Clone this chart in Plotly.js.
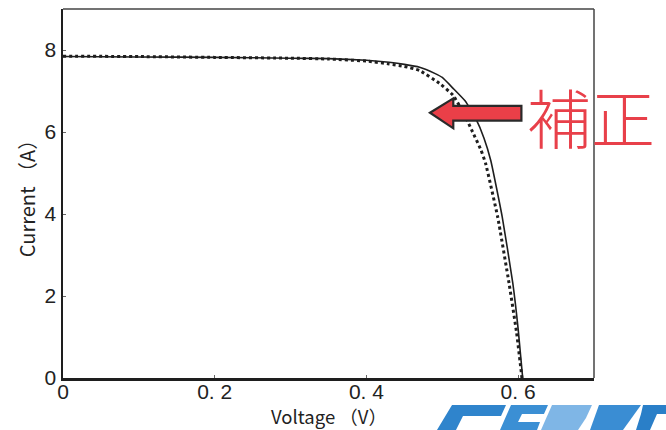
<!DOCTYPE html>
<html>
<head>
<meta charset="utf-8">
<script src="https://cdn.plot.ly/plotly-3.0.1.min.js"></script>
<style>html,body{margin:0;padding:0;background:#fff;}#chart{width:666px;height:430px;}</style>
</head>
<body>
<div id="chart"></div>
<script>
// Measured curve (solid)
const voltageSolid = [0, 0.1, 0.2, 0.3, 0.35, 0.4, 0.43, 0.45, 0.47, 0.49, 0.5, 0.514, 0.53, 0.544, 0.555, 0.564, 0.579, 0.593, 0.6, 0.606];
const currentSolid = [7.84, 7.83, 7.82, 7.80, 7.79, 7.75, 7.70, 7.65, 7.58, 7.43, 7.33, 7.07, 6.76, 6.33, 5.85, 5.3, 3.93, 2.31, 1.2, 0];
// Corrected curve (dotted)
const voltageDotted = [0, 0.1, 0.2, 0.3, 0.35, 0.4, 0.43, 0.45, 0.47, 0.496, 0.514, 0.527, 0.54, 0.551, 0.557, 0.573, 0.588, 0.598, 0.605];
const currentDotted = [7.85, 7.84, 7.82, 7.80, 7.78, 7.73, 7.66, 7.6, 7.5, 7.19, 6.9, 6.5, 6.0, 5.56, 5.24, 3.93, 2.31, 1.1, 0];
// Axis ticks
const xTickVals = [0, 0.2, 0.4, 0.6];
const xTickText = ['0', '0. 2', '0. 4', '0. 6'];
const yTickVals = [0, 2, 4, 6, 8];
const yTickText = ['0', '2', '4', '6', '8'];
const xTitle = 'Voltage （V）';
const yTitle = 'Current （A）';
const labelText = '補正';

const dark = '#1e1e1e';
const traces = [
  {x: voltageDotted, y: currentDotted, mode: 'lines', line: {color: dark, width: 3, dash: 'dot', shape: 'spline', smoothing: 0.4}, hoverinfo: 'skip'},
  {x: voltageSolid, y: currentSolid, mode: 'lines', line: {color: dark, width: 1.6, shape: 'spline', smoothing: 0.4}, hoverinfo: 'skip'}
];

// decorative logo fragment (pixel -> paper helpers)
const M = {l: 63, r: 72, t: 9, b: 52, W: 666, H: 430};
const pw = M.W - M.l - M.r, ph = M.H - M.t - M.b;
const px = v => ((v - M.l) / pw).toFixed(4);
const py = v => ((M.H - M.b - v) / ph).toFixed(4);
const poly = pts => 'M ' + pts.map(p => px(p[0]) + ' ' + py(p[1])).join(' L ') + ' Z';
const logoParts = [
  {pts: [[452,405],[506,405],[501,416],[463,416],[456,430],[437,430]], c: '#2f84cc'},
  {pts: [[511,405],[548,405],[544,414],[522,414],[518,422],[540,422],[537,430],[500,430]], c: '#3b8fd4'},
  {pts: [[552,405],[592,405],[586,418],[578,430],[541,430]], c: '#7fb6e6'},
  {pts: [[599,405],[641,405],[623,430],[590,430]], c: '#3a8dd3'},
  {pts: [[643,405],[666,405],[666,414],[657,414],[650,430],[636,430],[641,414]], c: '#2a7fc8'}
];

const shapes = [
  {type: 'line', xref: 'paper', yref: 'paper', x0: 0, x1: 1, y0: 1, y1: 1, line: {color: '#444', width: 1.5}},
  {type: 'line', xref: 'paper', yref: 'paper', x0: 1, x1: 1, y0: 0, y1: 1, line: {color: '#444', width: 1.5}},
  {type: 'path', xref: 'x', yref: 'y',
   path: 'M 0.4838 6.47 L 0.5145 6.82 L 0.5145 6.635 L 0.6043 6.635 L 0.6043 6.276 L 0.5145 6.276 L 0.5145 6.09 Z',
   fillcolor: '#ea3f48', line: {color: '#2a2a2a', width: 2.2}}
];
logoParts.forEach(p => shapes.push({type: 'path', xref: 'paper', yref: 'paper', path: poly(p.pts), fillcolor: p.c, line: {width: 0}, layer: 'above'}));

const layout = {
  width: 666, height: 430,
  margin: {l: M.l, r: M.r, t: M.t, b: M.b},
  paper_bgcolor: '#fff', plot_bgcolor: '#fff',
  showlegend: false,
  xaxis: {
    range: [0, 0.7], tickvals: xTickVals, ticktext: xTickText,
    showgrid: false, zeroline: false, showline: true, linecolor: dark, linewidth: 2.5,
    ticks: 'inside', ticklen: 3, tickcolor: '#666', tickwidth: 1, ticklabelstandoff: -7,
    tickfont: {family: '"Liberation Sans Narrow", "Liberation Sans", sans-serif', size: 21, color: '#222'}
  },
  yaxis: {
    range: [0, 9], tickvals: yTickVals, ticktext: yTickText,
    showgrid: false, zeroline: false, showline: true, linecolor: dark, linewidth: 2.5,
    ticks: 'inside', ticklen: 3, tickcolor: '#666', tickwidth: 1,
    tickfont: {family: '"Liberation Sans Narrow", "Liberation Sans", sans-serif', size: 21, color: '#222'},
    title: {text: yTitle, font: {family: '"Noto Sans CJK JP", sans-serif', size: 20, color: '#222'}, standoff: 4}
  },
  shapes: shapes,
  annotations: [
    {text: xTitle, xref: 'paper', yref: 'paper', x: 0.5, y: (378 - 430) / 369, xanchor: 'center', yanchor: 'bottom',
     showarrow: false, borderpad: 0, font: {family: '"Noto Sans CJK JP", sans-serif', size: 18.5, color: '#222'}},
    {text: labelText, xref: 'paper', yref: 'paper', x: 1.0, y: 0.713, xanchor: 'left', yanchor: 'middle', xshift: -69,
     showarrow: false, font: {family: '"Noto Sans CJK JP", serif', size: 64, color: '#e8404a', weight: 300}}
  ]
};

Plotly.newPlot('chart', traces, layout, {staticPlot: true, displayModeBar: false});
</script>
</body>
</html>
